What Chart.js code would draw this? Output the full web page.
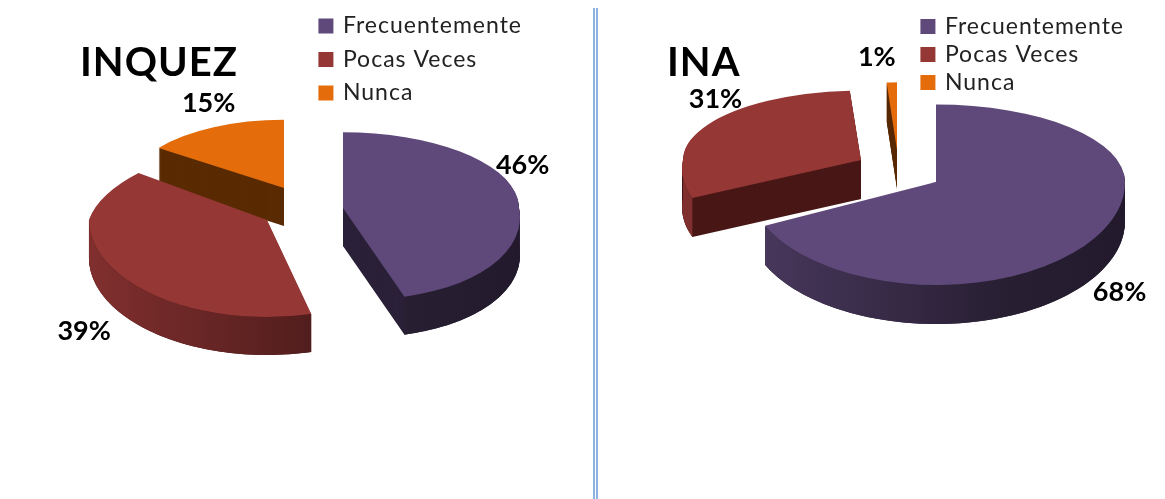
<!DOCTYPE html>
<html><head><meta charset="utf-8">
<style>
html,body{margin:0;padding:0;background:#fff;width:1165px;height:499px;overflow:hidden}
canvas{position:absolute;top:0}
#c1{left:0}#c2{left:600px}
.sep{position:absolute;top:8px;bottom:0;width:2px;background:#8db3e2}
</style>
<script src="https://cdn.jsdelivr.net/npm/chart.js@4"></script>
</head><body>
<div class="sep" style="left:593px"></div><div class="sep" style="left:596px"></div>
<canvas id="c1" width="590" height="499"></canvas>
<canvas id="c2" width="565" height="499"></canvas>
<script>
const categories = ['Frecuentemente','Pocas Veces','Nunca'];
const inquezValues = [46,39,15];
const inaValues = [68,31,1];
const sliceColors = ['#5f497a','#953735','#e46c0a'];
const wallColors = ['#2a2139','#481716','#5a2b03'];
const FONT = 'Lato, sans-serif';

function shade(hex,f){
  const n=parseInt(hex.slice(1),16);
  return `rgb(${Math.round((n>>16&255)*f)},${Math.round((n>>8&255)*f)},${Math.round((n&255)*f)})`;
}

function drawFlat(chart,arc,p,ax,y0,rx,kUp,kDown,shUp,shDown){
  const ctx=chart.ctx, sc=rx/p.outerRadius;
  [[kUp,shUp,-1000,y0+.5],[kDown,shDown,y0,y0+1000]].forEach(([k,sh,top,bottom])=>{
    ctx.save();
    ctx.beginPath();ctx.rect(-100,top,chart.width+200,bottom-top);ctx.clip();
    ctx.translate(ax,y0);ctx.transform(1,0,sh,1,0,0);ctx.scale(sc,sc*k);ctx.translate(-p.x,-p.y);
    arc.draw(ctx);
    ctx.restore();
  });
}

const pie3d = {
  id:'pie3d',
  beforeLayout(chart,args,o){ chart.ctx.letterSpacing = o.spacing; },
  beforeDraw(chart,args,o){ chart.ctx.letterSpacing = o.spacing; },
  beforeDatasetsDraw(chart,args,o){
    const ctx=chart.ctx, arcs=chart.getDatasetMeta(0).data;
    const items=arcs.map((arc,i)=>({arc,i,
      p:arc.getProps(['x','y','startAngle','endAngle','outerRadius']),
      ax:o.apex[i][0],ay:o.apex[i][1],rx:o.rx[i],kUp:o.kUp[i],kDown:o.kDown[i],
      shUp:o.shearUp[i],shDown:o.shearDown[i]}));
    const order=[...items].sort((a,b)=>a.ay-b.ay);
    const left=Math.min(...items.map(t=>t.ax-t.rx)), right=Math.max(...items.map(t=>t.ax+t.rx));
    for(const it of order){
      const {arc,i,p,ax,ay,rx,kUp,kDown,shUp,shDown}=it;
      const saved=arc.options;
      arc.options=Object.assign({},saved,{backgroundColor:wallColors[i],borderWidth:0});
      for(let d=o.depth;d>=1;d--) drawFlat(chart,arc,p,ax,ay+d,rx,kUp,kDown,shUp,shDown);
      const tw=Math.PI*2;
      for(const base of [-tw,0,tw]){
        const s=Math.max(p.startAngle,base),e=Math.min(p.endAngle,base+Math.PI);
        if(e<=s)continue;
        const g=ctx.createLinearGradient(left,0,right,0);
        g.addColorStop(0,shade(sliceColors[i],.86));
        g.addColorStop(.72,shade(sliceColors[i],.42));
        g.addColorStop(1,shade(sliceColors[i],.36));
        ctx.fillStyle=g;
        ctx.beginPath();
        const N=60;
        const px=t=>ax+rx*Math.cos(t)+shDown*rx*kDown*Math.sin(t), py=t=>ay+rx*kDown*Math.sin(t);
        for(let n=0;n<=N;n++){const t=s+(e-s)*n/N;n?ctx.lineTo(px(t),py(t)):ctx.moveTo(px(t),py(t));}
        for(let n=N;n>=0;n--){const t=s+(e-s)*n/N;ctx.lineTo(px(t),py(t)+o.depth);}
        ctx.closePath();ctx.fill();
      }
      arc.options=Object.assign({},saved,{borderWidth:0});
      drawFlat(chart,arc,p,ax,ay,rx,kUp,kDown,shUp,shDown);
      arc.options=saved;
    }
    return false;
  },
  afterDraw(chart,args,o){
    const ctx=chart.ctx, arcs=chart.getDatasetMeta(0).data, vals=chart.data.datasets[0].data;
    ctx.save();
    ctx.font='bold 27px '+FONT;ctx.fillStyle='#000';ctx.textAlign='center';ctx.textBaseline='middle';
    ctx.letterSpacing='0px';
    arcs.forEach((arc,i)=>{
      const p=arc.getProps(['startAngle','endAngle']);
      const mid=(p.startAngle+p.endAngle)/2, sn=Math.sin(mid);
      const x=o.apex[i][0]+Math.cos(mid)*o.labelR[i]+o.nudge[i][0];
      const y=o.apex[i][1]+sn*o.labelR[i]*(sn<0?o.kUp[i]:o.kDown[i])+o.nudge[i][1];
      ctx.fillText(vals[i]+'%',x,y);
    });
    ctx.restore();
  }
};

function makePie(id,label,values,opt){
  return new Chart(document.getElementById(id),{
    type:'pie',
    data:{labels:categories,datasets:[{label,data:values,backgroundColor:sliceColors,borderWidth:0}]},
    options:{
      responsive:false,animation:false,rotation:0,
      layout:{padding:opt.padding},
      plugins:{
        tooltip:{enabled:false},
        title:{display:true,text:label,align:'start',color:'#000',
          font:{family:FONT,weight:'bold',size:opt.titleSize},padding:opt.titlePadding},
        legend:{position:'right',align:'start',
          labels:{usePointStyle:true,pointStyle:'rect',boxWidth:11,boxHeight:15,
            padding:opt.legendPad,color:'#222',font:{family:FONT,size:23}}},
        pie3d:opt.pie
      }
    },
    plugins:[pie3d]
  });
}
Chart.defaults.font.family=FONT;

makePie('c1','INQUEZ',inquezValues,{
  padding:{left:80,top:4,right:58},titleSize:40,titlePadding:{top:35,bottom:8},legendPad:10.5,
  pie:{spacing:'1px',depth:38,
       apex:[[343,208],[267,220],[284,188]],rx:[176,178,155],labelR:[176,180,155],
       kUp:[.43,.45,.44],kDown:[.52,.545,.54],shearUp:[0,-.33,0],shearDown:[.2,0,0],
       nudge:[[5,-33],[-34,56],[-5,-24]]}
});
makePie('c2','INA',inaValues,{
  padding:{left:67,top:10,right:31},titleSize:40,titlePadding:{top:29,bottom:8},legendPad:5,
  pie:{spacing:'1px',depth:39,
       apex:[[336,182],[261,160],[297,150]],rx:[189,178,165],labelR:[189,183,165],
       kUp:[.41,.39,.41],kDown:[.545,.5,.54],shearUp:[0,0,0],shearDown:[0,-.2,0],
       nudge:[[24,55],[12,-24],[-15,-25]]}
});
</script>
</body></html>
